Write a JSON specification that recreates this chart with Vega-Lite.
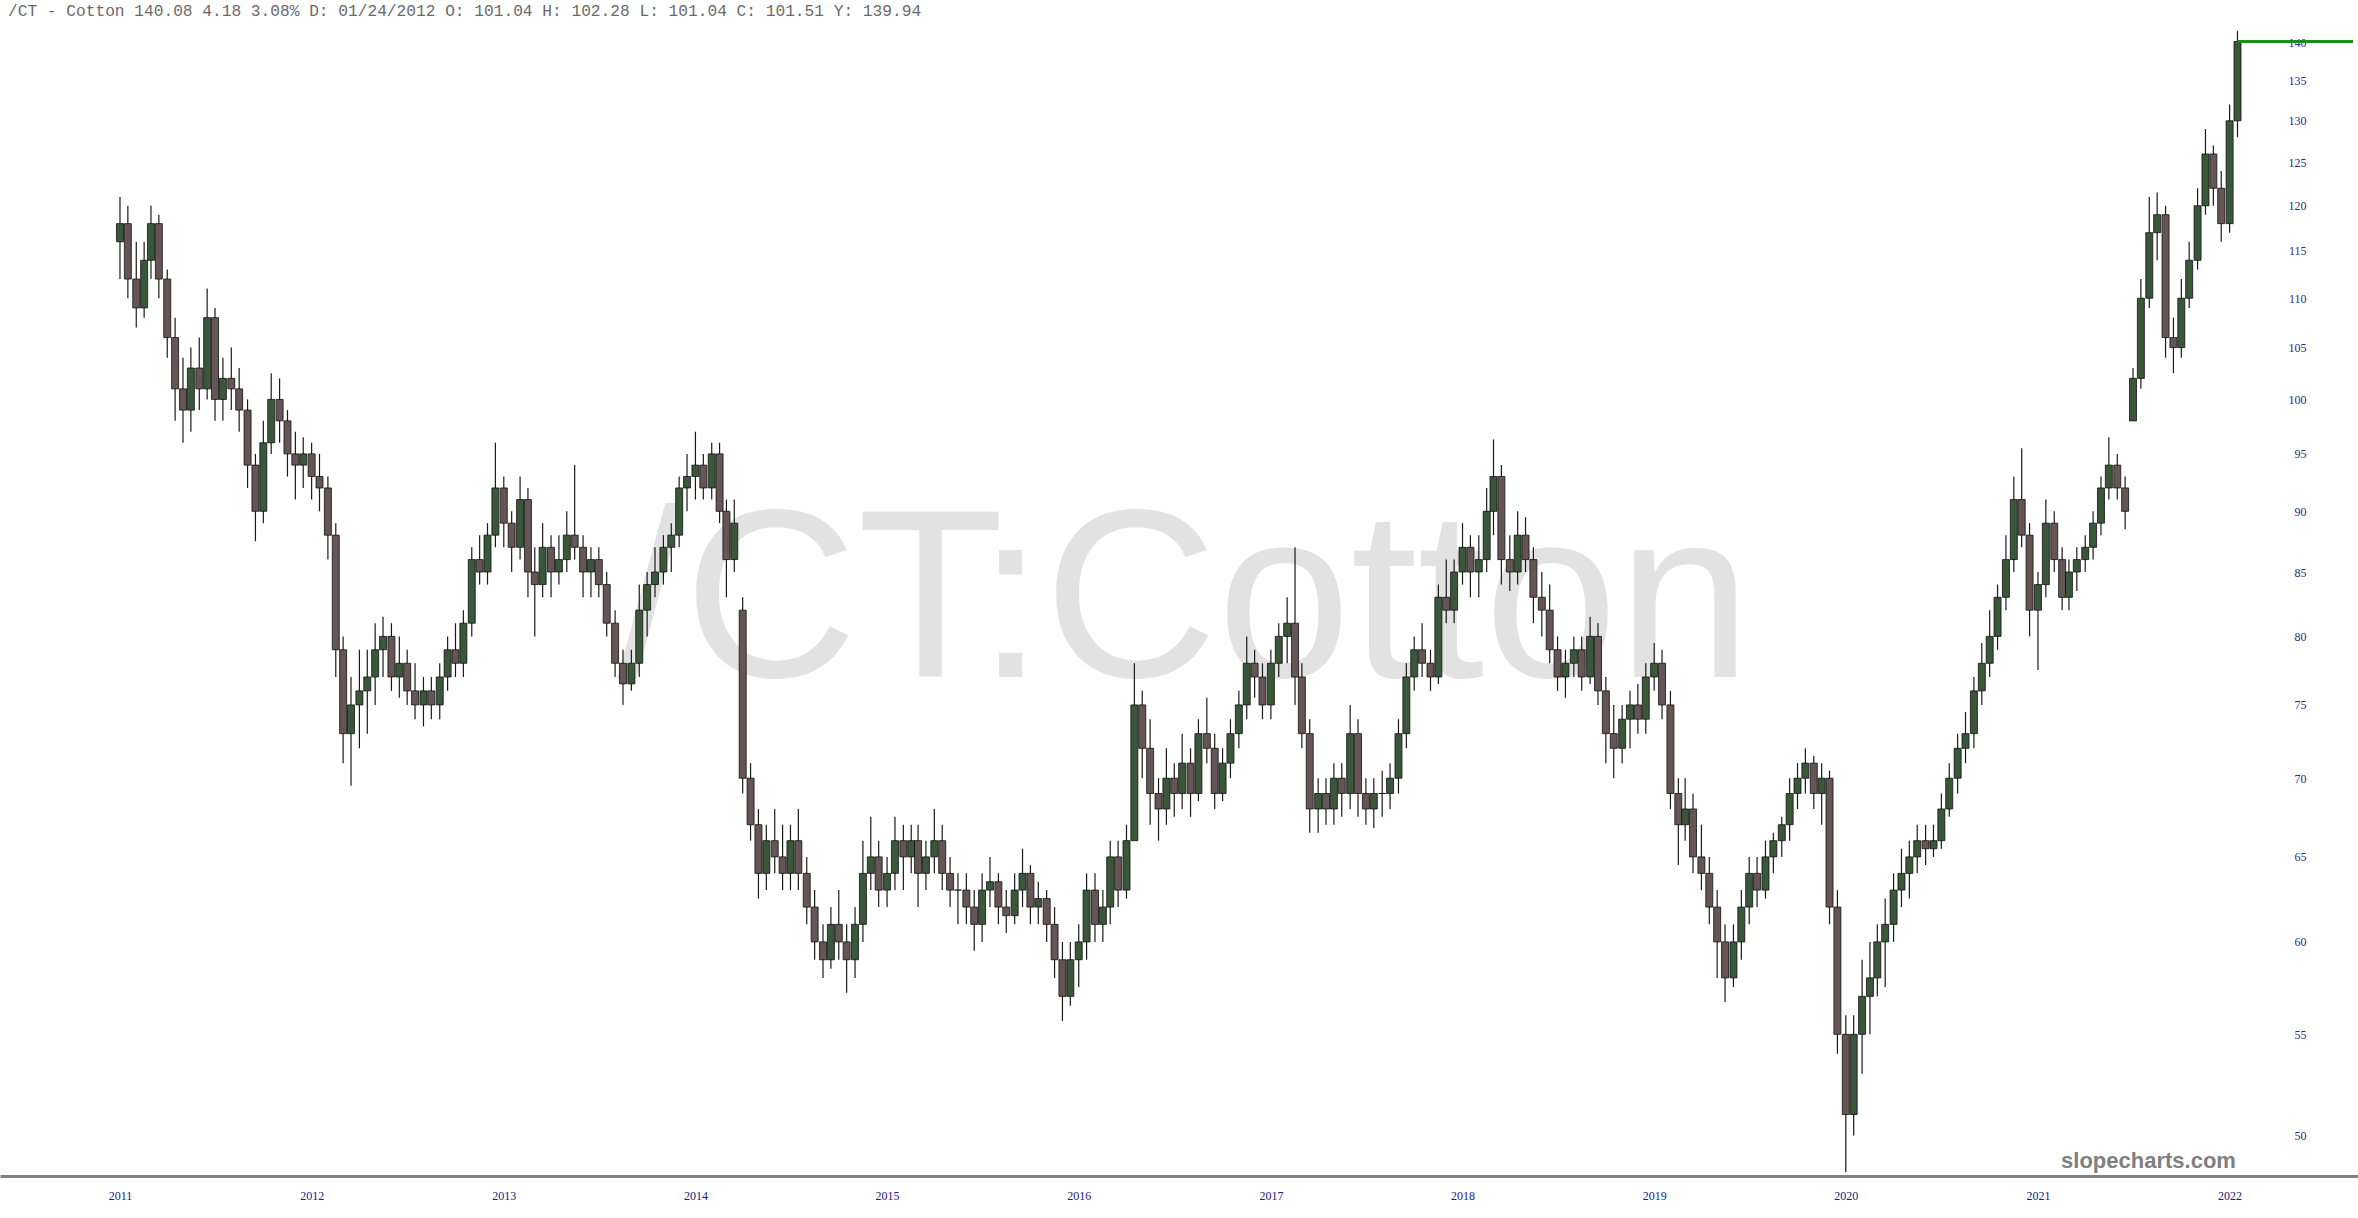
{
  "$schema": "https://vega.github.io/schema/vega-lite/v6.json",
  "width": 2358,
  "height": 1176,
  "autosize": {"type": "none"},
  "padding": {"left": 0, "right": 0, "top": 0, "bottom": 42},
  "background": "#ffffff",
  "config": {"view": {"stroke": null}},
  "title": {
    "text": "/CT - Cotton 140.08 4.18 3.08% D: 01/24/2012 O: 101.04 H: 102.28 L: 101.04 C: 101.51 Y: 139.94",
    "anchor": "start", "frame": "group", "orient": "top", "offset": -19, "dx": 8,
    "font": "Liberation Mono", "fontSize": 16.2, "fontWeight": "normal", "color": "#6a6a6a"
  },
  "datasets": {
    "ohlc": [
      {"d":"2011-01-01","o":116,"h":121,"l":112,"c":118},
      {"d":"2011-01-16","o":118,"h":120,"l":110,"c":112},
      {"d":"2011-02-01","o":112,"h":116,"l":107,"c":109},
      {"d":"2011-02-16","o":109,"h":116,"l":108,"c":114},
      {"d":"2011-03-01","o":114,"h":120,"l":112,"c":118},
      {"d":"2011-03-16","o":118,"h":119,"l":110,"c":112},
      {"d":"2011-04-01","o":112,"h":113,"l":104,"c":106},
      {"d":"2011-04-16","o":106,"h":108,"l":98,"c":101},
      {"d":"2011-05-01","o":101,"h":104,"l":96,"c":99},
      {"d":"2011-05-16","o":99,"h":105,"l":97,"c":103},
      {"d":"2011-06-01","o":103,"h":106,"l":99,"c":101},
      {"d":"2011-06-16","o":101,"h":111,"l":100,"c":108},
      {"d":"2011-07-01","o":108,"h":109,"l":98,"c":100},
      {"d":"2011-07-16","o":100,"h":104,"l":98,"c":102},
      {"d":"2011-08-01","o":102,"h":105,"l":99,"c":101},
      {"d":"2011-08-16","o":101,"h":103,"l":97,"c":99},
      {"d":"2011-09-01","o":99,"h":100,"l":92,"c":94},
      {"d":"2011-09-16","o":94,"h":95,"l":87.5,"c":90},
      {"d":"2011-10-01","o":90,"h":98,"l":89,"c":96},
      {"d":"2011-10-16","o":96,"h":102.5,"l":95,"c":100},
      {"d":"2011-11-01","o":100,"h":102,"l":96,"c":98},
      {"d":"2011-11-16","o":98,"h":99,"l":93,"c":95},
      {"d":"2011-12-01","o":95,"h":97,"l":91,"c":94},
      {"d":"2011-12-16","o":94,"h":96.5,"l":92,"c":95},
      {"d":"2012-01-01","o":95,"h":96,"l":91,"c":93},
      {"d":"2012-01-16","o":93,"h":95,"l":90,"c":92},
      {"d":"2012-02-01","o":92,"h":93,"l":86,"c":88},
      {"d":"2012-02-16","o":88,"h":89,"l":77,"c":79},
      {"d":"2012-03-01","o":79,"h":80,"l":71,"c":73},
      {"d":"2012-03-16","o":73,"h":77,"l":69.5,"c":75},
      {"d":"2012-04-01","o":75,"h":79,"l":72,"c":76},
      {"d":"2012-04-16","o":76,"h":79,"l":73,"c":77},
      {"d":"2012-05-01","o":77,"h":81,"l":75,"c":79},
      {"d":"2012-05-16","o":79,"h":81.5,"l":77,"c":80},
      {"d":"2012-06-01","o":80,"h":81,"l":76,"c":77},
      {"d":"2012-06-16","o":77,"h":80,"l":75.5,"c":78},
      {"d":"2012-07-01","o":78,"h":79,"l":75,"c":76},
      {"d":"2012-07-16","o":76,"h":78,"l":74,"c":75},
      {"d":"2012-08-01","o":75,"h":77,"l":73.5,"c":76},
      {"d":"2012-08-16","o":76,"h":77,"l":74,"c":75},
      {"d":"2012-09-01","o":75,"h":78,"l":74,"c":77},
      {"d":"2012-09-16","o":77,"h":80,"l":76,"c":79},
      {"d":"2012-10-01","o":79,"h":81,"l":77,"c":78},
      {"d":"2012-10-16","o":78,"h":82,"l":77,"c":81},
      {"d":"2012-11-01","o":81,"h":87,"l":80,"c":86},
      {"d":"2012-11-16","o":86,"h":88,"l":84,"c":85},
      {"d":"2012-12-01","o":85,"h":89,"l":84,"c":88},
      {"d":"2012-12-16","o":88,"h":96,"l":87,"c":92},
      {"d":"2013-01-01","o":92,"h":93,"l":87,"c":89},
      {"d":"2013-01-16","o":89,"h":90,"l":85,"c":87},
      {"d":"2013-02-01","o":87,"h":93,"l":86,"c":91},
      {"d":"2013-02-16","o":91,"h":92,"l":83,"c":85},
      {"d":"2013-03-01","o":85,"h":87,"l":80,"c":84},
      {"d":"2013-03-16","o":84,"h":89,"l":83,"c":87},
      {"d":"2013-04-01","o":87,"h":88,"l":83,"c":85},
      {"d":"2013-04-16","o":85,"h":88,"l":84,"c":86},
      {"d":"2013-05-01","o":86,"h":90,"l":85,"c":88},
      {"d":"2013-05-16","o":88,"h":94,"l":86,"c":87},
      {"d":"2013-06-01","o":87,"h":88,"l":83,"c":85},
      {"d":"2013-06-16","o":85,"h":87,"l":83,"c":86},
      {"d":"2013-07-01","o":86,"h":87,"l":83,"c":84},
      {"d":"2013-07-16","o":84,"h":85,"l":80,"c":81},
      {"d":"2013-08-01","o":81,"h":82,"l":77,"c":78},
      {"d":"2013-08-16","o":78,"h":79,"l":75,"c":76.5},
      {"d":"2013-09-01","o":76.5,"h":79,"l":76,"c":78},
      {"d":"2013-09-16","o":78,"h":84,"l":77,"c":82},
      {"d":"2013-10-01","o":82,"h":85,"l":80,"c":84},
      {"d":"2013-10-16","o":84,"h":87,"l":83,"c":85},
      {"d":"2013-11-01","o":85,"h":88,"l":84,"c":87},
      {"d":"2013-11-16","o":87,"h":89,"l":85,"c":88},
      {"d":"2013-12-01","o":88,"h":93,"l":87,"c":92},
      {"d":"2013-12-16","o":92,"h":95,"l":90,"c":93},
      {"d":"2014-01-01","o":93,"h":97,"l":91,"c":94},
      {"d":"2014-01-16","o":94,"h":95,"l":91,"c":92},
      {"d":"2014-02-01","o":92,"h":96,"l":91,"c":95},
      {"d":"2014-02-16","o":95,"h":96,"l":89,"c":90},
      {"d":"2014-03-01","o":90,"h":91,"l":83,"c":86},
      {"d":"2014-03-16","o":86,"h":91,"l":85,"c":89},
      {"d":"2014-04-01","o":82,"h":83,"l":69,"c":70},
      {"d":"2014-04-16","o":70,"h":71,"l":66,"c":67},
      {"d":"2014-05-01","o":67,"h":68,"l":62.5,"c":64},
      {"d":"2014-05-16","o":64,"h":67,"l":63,"c":66},
      {"d":"2014-06-01","o":66,"h":68,"l":64,"c":65},
      {"d":"2014-06-16","o":65,"h":67,"l":63,"c":64},
      {"d":"2014-07-01","o":64,"h":67,"l":63,"c":66},
      {"d":"2014-07-16","o":66,"h":68,"l":63,"c":64},
      {"d":"2014-08-01","o":64,"h":65,"l":61,"c":62},
      {"d":"2014-08-16","o":62,"h":63,"l":59,"c":60},
      {"d":"2014-09-01","o":60,"h":61,"l":58,"c":59},
      {"d":"2014-09-16","o":59,"h":62,"l":58.5,"c":61},
      {"d":"2014-10-01","o":61,"h":63,"l":59,"c":60},
      {"d":"2014-10-16","o":60,"h":61,"l":57.2,"c":59},
      {"d":"2014-11-01","o":59,"h":62,"l":58,"c":61},
      {"d":"2014-11-16","o":61,"h":66,"l":60,"c":64},
      {"d":"2014-12-01","o":64,"h":67.5,"l":63,"c":65},
      {"d":"2014-12-16","o":65,"h":66,"l":62,"c":63},
      {"d":"2015-01-01","o":63,"h":65,"l":62,"c":64},
      {"d":"2015-01-16","o":64,"h":67.5,"l":63,"c":66},
      {"d":"2015-02-01","o":66,"h":67,"l":63,"c":65},
      {"d":"2015-02-16","o":65,"h":67,"l":64,"c":66},
      {"d":"2015-03-01","o":66,"h":67,"l":62,"c":64},
      {"d":"2015-03-16","o":64,"h":66,"l":63,"c":65},
      {"d":"2015-04-01","o":65,"h":68,"l":64,"c":66},
      {"d":"2015-04-16","o":66,"h":67,"l":63,"c":64},
      {"d":"2015-05-01","o":64,"h":65,"l":62,"c":63},
      {"d":"2015-05-16","o":63,"h":64,"l":61,"c":63},
      {"d":"2015-06-01","o":63,"h":64,"l":61,"c":62},
      {"d":"2015-06-16","o":62,"h":63,"l":59.5,"c":61},
      {"d":"2015-07-01","o":61,"h":64,"l":60,"c":63},
      {"d":"2015-07-16","o":63,"h":65,"l":62,"c":63.5},
      {"d":"2015-08-01","o":63.5,"h":64,"l":61,"c":62},
      {"d":"2015-08-16","o":62,"h":63,"l":60.5,"c":61.5},
      {"d":"2015-09-01","o":61.5,"h":64,"l":61,"c":63},
      {"d":"2015-09-16","o":63,"h":65.5,"l":62,"c":64},
      {"d":"2015-10-01","o":64,"h":64.5,"l":61,"c":62},
      {"d":"2015-10-16","o":62,"h":63.5,"l":61,"c":62.5},
      {"d":"2015-11-01","o":62.5,"h":63,"l":60,"c":61},
      {"d":"2015-11-16","o":61,"h":62,"l":58,"c":59},
      {"d":"2015-12-01","o":59,"h":60,"l":55.7,"c":57},
      {"d":"2015-12-16","o":57,"h":60,"l":56.5,"c":59},
      {"d":"2016-01-01","o":59,"h":61,"l":57.5,"c":60},
      {"d":"2016-01-16","o":60,"h":64,"l":59,"c":63},
      {"d":"2016-02-01","o":63,"h":64,"l":60,"c":61},
      {"d":"2016-02-16","o":61,"h":63,"l":60,"c":62},
      {"d":"2016-03-01","o":62,"h":66,"l":61,"c":65},
      {"d":"2016-03-16","o":65,"h":66,"l":62,"c":63},
      {"d":"2016-04-01","o":63,"h":67,"l":62.5,"c":66},
      {"d":"2016-04-16","o":66,"h":78,"l":66,"c":75},
      {"d":"2016-05-01","o":75,"h":76,"l":70,"c":72},
      {"d":"2016-05-16","o":72,"h":74,"l":67,"c":69},
      {"d":"2016-06-01","o":69,"h":70,"l":66,"c":68},
      {"d":"2016-06-16","o":68,"h":72,"l":67,"c":70},
      {"d":"2016-07-01","o":70,"h":71,"l":67.5,"c":69},
      {"d":"2016-07-16","o":69,"h":73,"l":68,"c":71},
      {"d":"2016-08-01","o":71,"h":72,"l":67.5,"c":69},
      {"d":"2016-08-16","o":69,"h":74,"l":68.5,"c":73},
      {"d":"2016-09-01","o":73,"h":75.5,"l":71,"c":72},
      {"d":"2016-09-16","o":72,"h":73,"l":68,"c":69},
      {"d":"2016-10-01","o":69,"h":72,"l":68.5,"c":71},
      {"d":"2016-10-16","o":71,"h":74,"l":70,"c":73},
      {"d":"2016-11-01","o":73,"h":76,"l":72,"c":75},
      {"d":"2016-11-16","o":75,"h":80,"l":74,"c":78},
      {"d":"2016-12-01","o":78,"h":79,"l":75.5,"c":77},
      {"d":"2016-12-16","o":77,"h":78,"l":74,"c":75},
      {"d":"2017-01-01","o":75,"h":79,"l":74,"c":78},
      {"d":"2017-01-16","o":78,"h":81,"l":77,"c":80},
      {"d":"2017-02-01","o":80,"h":83,"l":78,"c":81},
      {"d":"2017-02-16","o":81,"h":87,"l":75,"c":77},
      {"d":"2017-03-01","o":77,"h":78,"l":72,"c":73},
      {"d":"2017-03-16","o":73,"h":74,"l":66.5,"c":68},
      {"d":"2017-04-01","o":68,"h":70,"l":66.5,"c":69},
      {"d":"2017-04-16","o":69,"h":70,"l":67,"c":68},
      {"d":"2017-05-01","o":68,"h":71,"l":67,"c":70},
      {"d":"2017-05-16","o":70,"h":71,"l":67.5,"c":69},
      {"d":"2017-06-01","o":69,"h":75,"l":68,"c":73},
      {"d":"2017-06-16","o":73,"h":74,"l":67.5,"c":69},
      {"d":"2017-07-01","o":69,"h":70,"l":67,"c":68},
      {"d":"2017-07-16","o":68,"h":70,"l":66.8,"c":69},
      {"d":"2017-08-01","o":69,"h":70.5,"l":67.5,"c":69},
      {"d":"2017-08-16","o":69,"h":71,"l":68,"c":70},
      {"d":"2017-09-01","o":70,"h":74,"l":69,"c":73},
      {"d":"2017-09-16","o":73,"h":78,"l":72,"c":77},
      {"d":"2017-10-01","o":77,"h":80,"l":76,"c":79},
      {"d":"2017-10-16","o":79,"h":81,"l":77,"c":78},
      {"d":"2017-11-01","o":78,"h":79,"l":76,"c":77},
      {"d":"2017-11-16","o":77,"h":84,"l":76.5,"c":83},
      {"d":"2017-12-01","o":83,"h":86,"l":81,"c":82},
      {"d":"2017-12-16","o":82,"h":86,"l":81,"c":85},
      {"d":"2018-01-01","o":85,"h":89,"l":84,"c":87},
      {"d":"2018-01-16","o":87,"h":88,"l":83,"c":85},
      {"d":"2018-02-01","o":85,"h":88,"l":83,"c":86},
      {"d":"2018-02-16","o":86,"h":92,"l":85,"c":90},
      {"d":"2018-03-01","o":90,"h":96.3,"l":88,"c":93},
      {"d":"2018-03-16","o":93,"h":94,"l":84,"c":86},
      {"d":"2018-04-01","o":86,"h":88,"l":83.5,"c":85},
      {"d":"2018-04-16","o":85,"h":90,"l":84,"c":88},
      {"d":"2018-05-01","o":88,"h":89.5,"l":85,"c":86},
      {"d":"2018-05-16","o":86,"h":87,"l":81,"c":83},
      {"d":"2018-06-01","o":83,"h":85,"l":80,"c":82},
      {"d":"2018-06-16","o":82,"h":84,"l":78,"c":79},
      {"d":"2018-07-01","o":79,"h":80,"l":76,"c":77},
      {"d":"2018-07-16","o":77,"h":79,"l":75.5,"c":78},
      {"d":"2018-08-01","o":78,"h":80,"l":77,"c":79},
      {"d":"2018-08-16","o":79,"h":80,"l":76,"c":77},
      {"d":"2018-09-01","o":77,"h":81.5,"l":76.5,"c":80},
      {"d":"2018-09-16","o":80,"h":81,"l":75,"c":76},
      {"d":"2018-10-01","o":76,"h":77,"l":71,"c":73},
      {"d":"2018-10-16","o":73,"h":75,"l":70,"c":72},
      {"d":"2018-11-01","o":72,"h":75,"l":71,"c":74},
      {"d":"2018-11-16","o":74,"h":76,"l":72,"c":75},
      {"d":"2018-12-01","o":75,"h":76.5,"l":73,"c":74},
      {"d":"2018-12-16","o":74,"h":78,"l":73,"c":77},
      {"d":"2019-01-01","o":77,"h":79.5,"l":76,"c":78},
      {"d":"2019-01-16","o":78,"h":79,"l":74,"c":75},
      {"d":"2019-02-01","o":75,"h":76,"l":68,"c":69},
      {"d":"2019-02-16","o":69,"h":70,"l":64.5,"c":67},
      {"d":"2019-03-01","o":67,"h":70,"l":66,"c":68},
      {"d":"2019-03-16","o":68,"h":69,"l":64,"c":65},
      {"d":"2019-04-01","o":65,"h":67,"l":63,"c":64},
      {"d":"2019-04-16","o":64,"h":65,"l":61,"c":62},
      {"d":"2019-05-01","o":62,"h":63,"l":58,"c":60},
      {"d":"2019-05-16","o":60,"h":61,"l":56.7,"c":58},
      {"d":"2019-06-01","o":58,"h":61,"l":57.5,"c":60},
      {"d":"2019-06-16","o":60,"h":63,"l":59,"c":62},
      {"d":"2019-07-01","o":62,"h":65,"l":61,"c":64},
      {"d":"2019-07-16","o":64,"h":65,"l":62,"c":63},
      {"d":"2019-08-01","o":63,"h":66,"l":62.5,"c":65},
      {"d":"2019-08-16","o":65,"h":66.5,"l":64,"c":66},
      {"d":"2019-09-01","o":66,"h":67.5,"l":65,"c":67},
      {"d":"2019-09-16","o":67,"h":70,"l":66,"c":69},
      {"d":"2019-10-01","o":69,"h":71,"l":68,"c":70},
      {"d":"2019-10-16","o":70,"h":72,"l":69,"c":71},
      {"d":"2019-11-01","o":71,"h":71.5,"l":68,"c":69},
      {"d":"2019-11-16","o":69,"h":71,"l":67,"c":70},
      {"d":"2019-12-01","o":70,"h":70.5,"l":61,"c":62},
      {"d":"2019-12-16","o":62,"h":63,"l":54,"c":55},
      {"d":"2020-01-01","o":55,"h":56,"l":48.3,"c":51},
      {"d":"2020-01-16","o":51,"h":56,"l":50,"c":55},
      {"d":"2020-02-01","o":55,"h":59,"l":53,"c":57},
      {"d":"2020-02-16","o":57,"h":60,"l":55,"c":58},
      {"d":"2020-03-01","o":58,"h":61,"l":57,"c":60},
      {"d":"2020-03-16","o":60,"h":62.5,"l":57.5,"c":61},
      {"d":"2020-04-01","o":61,"h":64,"l":60,"c":63},
      {"d":"2020-04-16","o":63,"h":65.5,"l":62,"c":64},
      {"d":"2020-05-01","o":64,"h":66,"l":62.5,"c":65},
      {"d":"2020-05-16","o":65,"h":67,"l":64,"c":66},
      {"d":"2020-06-01","o":66,"h":67,"l":64.5,"c":65.5},
      {"d":"2020-06-16","o":65.5,"h":67,"l":65,"c":66},
      {"d":"2020-07-01","o":66,"h":69,"l":65.5,"c":68},
      {"d":"2020-07-16","o":68,"h":71,"l":67.5,"c":70},
      {"d":"2020-08-01","o":70,"h":73,"l":69,"c":72},
      {"d":"2020-08-16","o":72,"h":74.5,"l":71,"c":73},
      {"d":"2020-09-01","o":73,"h":77,"l":72,"c":76},
      {"d":"2020-09-16","o":76,"h":79.5,"l":75,"c":78},
      {"d":"2020-10-01","o":78,"h":82,"l":77,"c":80},
      {"d":"2020-10-16","o":80,"h":84,"l":79,"c":83},
      {"d":"2020-11-01","o":83,"h":88,"l":82,"c":86},
      {"d":"2020-11-16","o":86,"h":93,"l":85,"c":91},
      {"d":"2020-12-01","o":91,"h":95.5,"l":87,"c":88},
      {"d":"2020-12-16","o":88,"h":89,"l":80,"c":82},
      {"d":"2021-01-01","o":82,"h":85,"l":77.5,"c":84},
      {"d":"2021-01-16","o":84,"h":91,"l":83,"c":89},
      {"d":"2021-02-01","o":89,"h":90,"l":85,"c":86},
      {"d":"2021-02-16","o":86,"h":87,"l":82,"c":83},
      {"d":"2021-03-01","o":83,"h":86,"l":82,"c":85},
      {"d":"2021-03-16","o":85,"h":87,"l":83.5,"c":86},
      {"d":"2021-04-01","o":86,"h":88,"l":85,"c":87},
      {"d":"2021-04-16","o":87,"h":90,"l":86,"c":89},
      {"d":"2021-05-01","o":89,"h":93,"l":88,"c":92},
      {"d":"2021-05-16","o":92,"h":96.5,"l":91,"c":94},
      {"d":"2021-06-01","o":94,"h":95,"l":91,"c":92},
      {"d":"2021-06-16","o":92,"h":93,"l":88.5,"c":90},
      {"d":"2021-07-01","o":98,"h":103,"l":98,"c":102},
      {"d":"2021-07-16","o":102,"h":112,"l":101,"c":110},
      {"d":"2021-08-01","o":110,"h":121,"l":109,"c":117},
      {"d":"2021-08-16","o":117,"h":121.5,"l":114,"c":119},
      {"d":"2021-09-01","o":119,"h":120,"l":104,"c":106},
      {"d":"2021-09-16","o":106,"h":108,"l":102.5,"c":105},
      {"d":"2021-10-01","o":105,"h":112,"l":104,"c":110},
      {"d":"2021-10-16","o":110,"h":116,"l":109,"c":114},
      {"d":"2021-11-01","o":114,"h":122,"l":113,"c":120},
      {"d":"2021-11-16","o":120,"h":129,"l":119,"c":126},
      {"d":"2021-12-01","o":126,"h":127,"l":120,"c":122},
      {"d":"2021-12-16","o":122,"h":124,"l":116,"c":118},
      {"d":"2022-01-01","o":118,"h":132,"l":117,"c":130},
      {"d":"2022-01-16","o":130,"h":141.5,"l":128,"c":140.08}
    ]
  },
  "layer": [
    {
      "data": {"values": [{"label": "/CT:Cotton"}]},
      "mark": {"type": "text", "font": "Liberation Sans", "fontSize": 240, "color": "#e2e2e2", "align": "center", "baseline": "alphabetic"},
      "encoding": {
        "x": {"datum": {"year": 2016, "month": 7, "date": 20}, "type": "temporal"},
        "y": {"datum": 77.0, "type": "quantitative"},
        "text": {"field": "label"}
      }
    },
    {
      "data": {"name": "ohlc"},
      "mark": {"type": "rule", "color": "#1a1a1a", "strokeWidth": 1.2},
      "encoding": {
        "x": {
          "field": "d", "type": "temporal",
          "scale": {"domain": [{"year": 2010, "month": 5, "date": 27}, {"year": 2022, "month": 8, "date": 24}]},
          "axis": {
            "title": null, "format": "%Y", "tickCount": {"interval": "year", "step": 1},
            "grid": false, "ticks": false, "domainColor": "#808080", "domainWidth": 3,
            "labelPadding": 14, "labelFont": "Liberation Sans Narrow", "labelFontSize": 12,
            "labelColor": "#20207a", "labelAlign": "center"
          }
        },
        "y": {
          "field": "l", "type": "quantitative",
          "scale": {"type": "log", "domain": [48.13, 145.66], "nice": false, "zero": false},
          "axis": {
            "title": null, "orient": "right", "offset": -52, "values": [50,55,60,65,70,75,80,85,90,95,100,105,110,115,120,125,130,135,140],
            "format": "d", "grid": false, "ticks": false, "tickSize": 0, "domain": false,
            "labelAlign": "right", "labelPadding": 0, "labelFont": "Liberation Serif",
            "labelFontSize": 12, "labelColor": "#2a2a80", "labelBaseline": "middle"
          }
        },
        "y2": {"field": "h"}
      }
    },
    {
      "data": {"name": "ohlc"},
      "mark": {"type": "bar", "size": 7, "stroke": "#111111", "strokeWidth": 0.8},
      "encoding": {
        "x": {"field": "d", "type": "temporal"},
        "y": {"field": "o", "type": "quantitative"},
        "y2": {"field": "c"},
        "fill": {
          "condition": {"test": "datum.c >= datum.o", "value": "#3a573a"},
          "value": "#665555"
        }
      }
    },
    {
      "data": {"values": [{"last": 140.08}]},
      "mark": {"type": "rule", "color": "#1e8c1e", "strokeWidth": 3},
      "encoding": {
        "x": {"datum": {"year": 2022, "month": 1, "date": 16}, "type": "temporal"},
        "x2": {"datum": {"year": 2022, "month": 8, "date": 24}},
        "y": {"field": "last", "type": "quantitative"}
      }
    },
    {
      "data": {"values": [{"label": "slopecharts.com"}]},
      "mark": {"type": "text", "font": "Liberation Sans", "fontSize": 22, "fontWeight": "bold", "color": "#7f7f7f", "align": "right", "baseline": "alphabetic"},
      "encoding": {
        "x": {"datum": {"year": 2022, "month": 1, "date": 13}, "type": "temporal"},
        "y": {"datum": 48.5, "type": "quantitative"},
        "text": {"field": "label"}
      }
    }
  ]
}
